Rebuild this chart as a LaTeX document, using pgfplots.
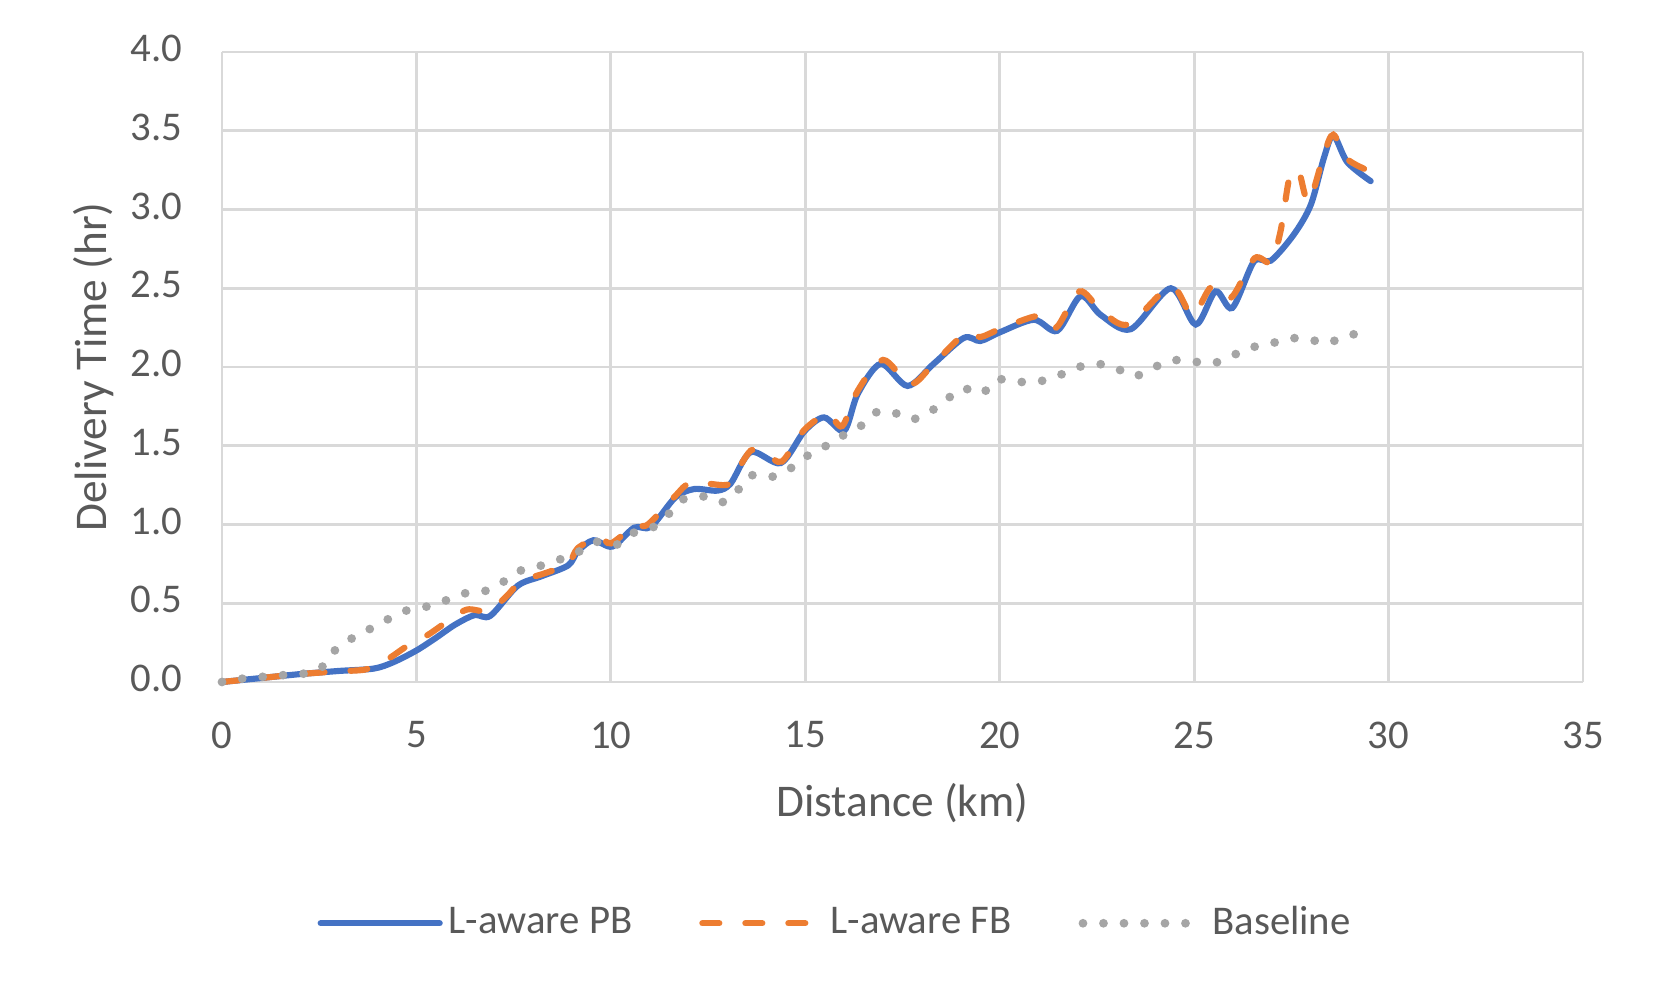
\documentclass[border=0pt]{standalone}
\usepackage{pgfplots}
\pgfplotsset{compat=1.18}
\usepackage{fontspec}
\setmainfont{Carlito}
\definecolor{cblue}{HTML}{4472C4}
\definecolor{corange}{HTML}{ED7D31}
\definecolor{cgray}{HTML}{A5A5A5}
\definecolor{cgrid}{HTML}{D9D9D9}
\definecolor{ctext}{HTML}{595959}
\begin{document}
\begin{tikzpicture}
\path (0,0) rectangle (165.9mm,99.9mm);
\begin{axis}[
  at={(22.2mm,31.7mm)}, anchor=south west,
  scale only axis, width=136.1mm, height=63.0mm,
  xmin=0, xmax=35, ymin=0, ymax=4,
  xtick={0,5,...,35}, ytick={0,0.5,...,4},
  axis x line=bottom, axis y line=left,
  axis line style={draw=cgrid, line width=0.8pt, -},
  grid=major, major grid style={draw=cgrid, line width=0.8pt},
  major tick length=0pt,
  /pgf/number format/assume math mode=true,
  yticklabel={\pgfmathprintnumber[fixed,fixed zerofill,precision=1]{\tick}},
  xticklabel style={font=\fontsize{11.6}{13}\selectfont, text=ctext, anchor=center, inner sep=0pt, yshift=-5.3mm},
  yticklabel style={font=\fontsize{11.6}{13}\selectfont, text=ctext, anchor=east, inner sep=0pt, xshift=-3.9mm, yshift=0.35mm},
  xlabel={Distance (km)}, ylabel={Delivery Time (hr)},
  xlabel style={font=\fontsize{12.9}{15}\selectfont, text=ctext, at={(axis description cs:0.5,-0.1915)}, anchor=center},
  ylabel style={font=\fontsize{12.9}{15}\selectfont, text=ctext, at={(axis description cs:-0.0945,0.5)}, anchor=center, rotate=0},
  legend columns=3,
  legend style={at={(axis description cs:0.452,-0.383)}, anchor=center, draw=none, fill=none,
    font=\fontsize{11.6}{13}\selectfont, text=ctext,
    /tikz/every even column/.append style={column sep=6.1mm},
    nodes={inner sep=0.6mm}},
  legend image code/.code={\draw[#1] (0mm,0mm) -- (11.9mm,0mm);},
  clip=false,
]
\addplot[cblue, line width=1.75pt, smooth, line cap=round] coordinates {
(0,0) (1,0.025) (2,0.05) (3,0.07) (3.9,0.085) (4.4,0.125) (5,0.2) (5.5,0.28)
(6,0.365) (6.5,0.425) (6.9,0.42) (7.6,0.61) (8.2,0.67) (8.9,0.74) (9.15,0.83)
(9.55,0.9) (10.04,0.86) (10.6,0.98) (11.03,0.985) (11.65,1.17) (12.14,1.225)
(12.74,1.215) (13.08,1.26) (13.6,1.46) (14.37,1.39) (14.97,1.59) (15.48,1.68)
(16.0,1.595) (16.35,1.83) (16.94,2.02) (17.63,1.88) (18.3,2.02) (19.08,2.185)
(19.5,2.165) (20.0,2.22) (20.88,2.30) (21.48,2.23) (22.08,2.45) (22.6,2.33)
(23.37,2.24) (24.4,2.50) (25.04,2.27) (25.55,2.48) (25.98,2.375) (26.54,2.67)
(26.97,2.675) (27.56,2.84) (28.0,3.03) (28.34,3.33) (28.58,3.47) (28.94,3.30)
(29.54,3.18)
};
\addlegendentry{L-aware PB}
\addplot[corange, line width=1.75pt, smooth, line cap=round, dash pattern=on 1.7mm off 2.6mm] coordinates {
(0,0) (1,0.025) (2,0.05) (3,0.068) (3.7,0.08) (4.2,0.135) (4.8,0.235) (5.3,0.30)
(5.8,0.385) (6.3,0.46) (6.85,0.45) (7.3,0.54) (7.7,0.64) (8.3,0.69) (8.9,0.75)
(9.15,0.85) (9.7,0.92) (10.0,0.88) (10.6,0.99) (10.95,1.0) (11.65,1.18)
(12.06,1.265) (12.9,1.25) (13.1,1.28) (13.6,1.47) (14.0,1.45) (14.4,1.40)
(14.97,1.60) (15.57,1.70) (15.95,1.625) (16.35,1.85) (17.0,2.045) (17.7,1.89)
(18.3,2.02) (19.1,2.21) (19.5,2.19) (20.0,2.24) (21.0,2.325) (21.45,2.25)
(22.05,2.48) (22.6,2.36) (23.3,2.27) (24.4,2.51) (24.95,2.33) (25.45,2.51)
(25.95,2.44) (26.55,2.69) (26.97,2.665) (27.22,2.86) (27.43,3.18) (27.58,3.255)
(27.72,3.22) (27.95,3.05) (28.34,3.35) (28.58,3.475) (28.94,3.32) (29.5,3.245)
};
\addlegendentry{L-aware FB}
\addplot[cgray, line width=2.5pt, smooth, line cap=round, dash pattern=on 0pt off 2.05mm] coordinates {
(0,0) (0.55,0.022) (1.1,0.034) (1.6,0.044) (2.15,0.055) (2.55,0.09) (2.9,0.2)
(3.36,0.28) (3.83,0.34) (4.28,0.40) (4.77,0.456) (5.29,0.48) (5.78,0.52)
(6.28,0.565) (6.8,0.58) (7.26,0.64) (7.7,0.71) (8.22,0.74) (8.71,0.78) (9.2,0.83)
(9.65,0.89) (10.13,0.87) (10.56,0.945) (11.07,0.98) (11.5,1.07) (11.86,1.16)
(12.34,1.18) (12.85,1.14) (13.24,1.21) (13.57,1.31) (14.1,1.30) (14.58,1.35)
(15.01,1.43) (15.47,1.49) (15.93,1.56) (16.4,1.62) (16.79,1.71) (17.24,1.715)
(17.69,1.665) (18.17,1.71) (18.62,1.79) (19.04,1.865) (19.53,1.83) (19.92,1.92)
(20.41,1.907) (20.93,1.905) (21.44,1.937) (21.91,1.99) (22.43,2.02) (22.94,2.0)
(23.43,1.94) (23.88,1.985) (24.35,2.04) (24.87,2.04) (25.41,2.02) (25.9,2.06)
(26.37,2.12) (26.88,2.14) (27.38,2.18) (27.9,2.18) (28.41,2.15) (28.91,2.2)
(29.45,2.215)
};
\addlegendentry{Baseline}
\end{axis}
\end{tikzpicture}
\end{document}
